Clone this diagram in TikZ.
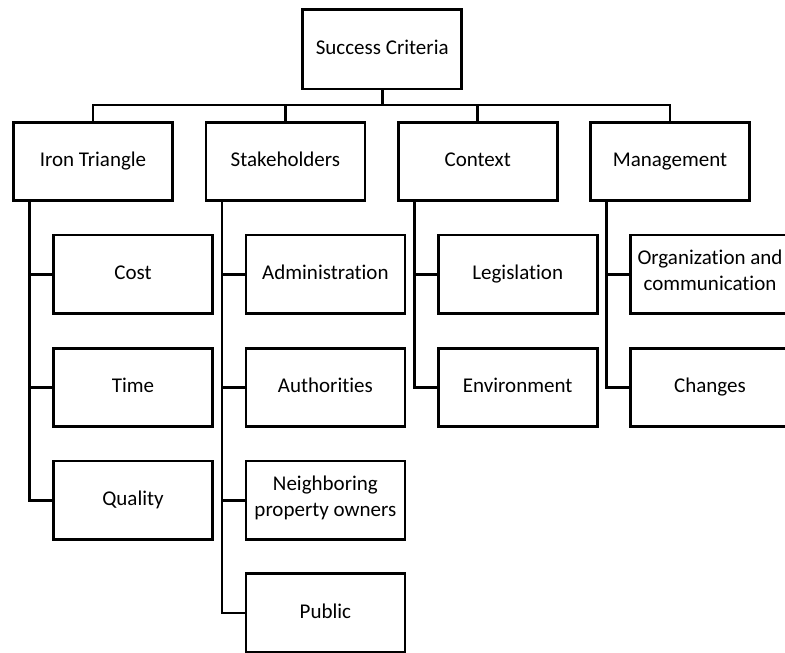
\documentclass[tikz,border=0pt]{standalone}
\usepackage{fontspec}
\setmainfont{Carlito}[Ligatures={NoCommon,NoContextual}]
\begin{document}
\begin{tikzpicture}[x=1pt,y=-1pt,
  box/.style={draw, line width=2.8pt, line join=miter, outer sep=0pt, inner sep=0pt,
    minimum width=159pt, minimum height=78.5pt, align=center,
    font=\fontsize{21}{25.6}\selectfont,
    execute at begin node=\strut, execute at end node=\strut},
  link/.style={line width=2.8pt, line join=miter}]
\useasboundingbox (0,0) rectangle (785,653);
\clip (0,0) rectangle (785,653);
% root
\node[box, minimum height=79.5pt] (root) at (382.2,49.2) {Success Criteria};
% main branches
\node[box] (iron) at (93,161.5) {Iron Triangle};
\node[box] (stake) at (285.4,161.5) {Stakeholders};
\node[box] (ctx) at (477.7,161.5) {Context};
\node[box] (mgmt) at (670,161.5) {Management};
% leaves
\node[box] (cost) at (133,274.2) {Cost};
\node[box] (time) at (133,387.5) {Time};
\node[box] (quality) at (133,500.2) {Quality};
\node[box] (admin) at (325.4,274.2) {Administration};
\node[box] (auth) at (325.4,387.5) {Authorities};
\node[box] (neigh) at (325.4,500.2) {Neighboring\\property owners};
\node[box] (public) at (325.4,613) {Public};
\node[box] (legis) at (517.7,274.2) {Legislation};
\node[box] (env) at (517.7,387.5) {Environment};
\node[box] (org) at (710,274.2) {Organization and\\communication};
\node[box] (changes) at (710,387.5) {Changes};
% root to branches
\foreach \b in {iron,stake,ctx,mgmt}
  \draw[link] (root.south) -- ++(0,16) -| (\b.north);
% branches to leaves
\foreach \p/\c in {iron/cost,iron/time,iron/quality,
                   stake/admin,stake/auth,stake/neigh,stake/public,
                   ctx/legis,ctx/env,mgmt/org,mgmt/changes}
  \draw[link] ([xshift=16pt]\p.south west) |- (\c.west);
\end{tikzpicture}
\end{document}
